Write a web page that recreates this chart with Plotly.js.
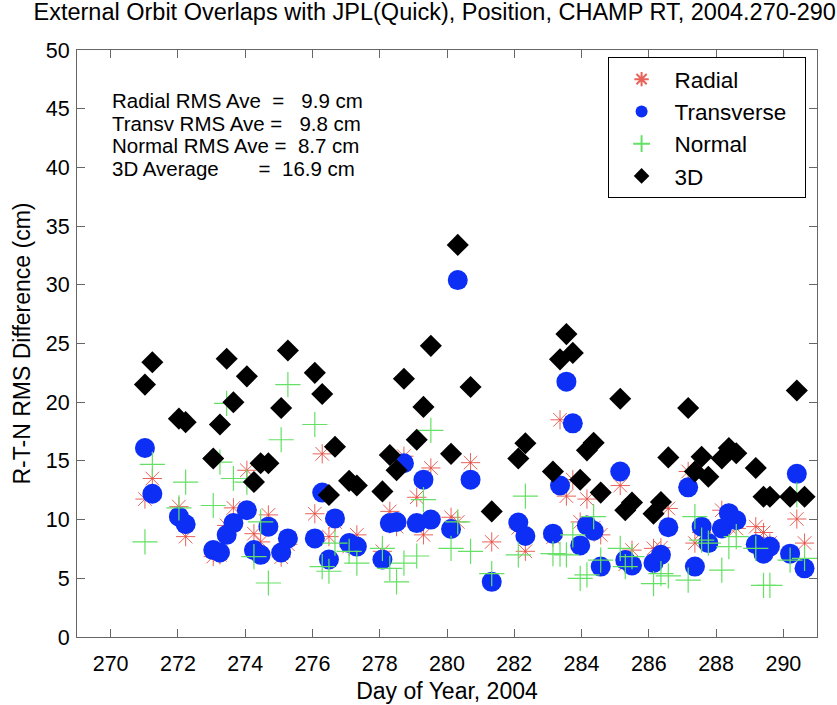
<!DOCTYPE html>
<html>
<head>
<meta charset="utf-8">
<script src="https://cdn.plot.ly/plotly-3.0.1.min.js"></script>
<style>
  html, body { margin: 0; padding: 0; background: #fff; }
  #chart { width: 837px; height: 705px; }
</style>
</head>
<body>
<div id="chart"></div>
<script>
// Overlap epochs (day of year 2004) and RMS position differences in cm
const dayOfYear = [
  271.02, 271.24, 272.03, 272.23, 273.05, 273.25, 273.45, 273.65, 274.05, 274.26,
  274.46, 274.69, 275.07, 275.27, 276.07, 276.29, 276.49, 276.67, 277.09, 277.32,
  278.08, 278.30, 278.50, 278.72, 279.10, 279.30, 279.52, 280.12, 280.32, 280.70,
  281.33, 282.12, 282.33, 283.15, 283.36, 283.55, 283.74, 283.96, 284.16, 284.36,
  284.57, 285.15, 285.30, 285.50, 286.14, 286.36, 286.58, 287.17, 287.37, 287.57,
  287.77, 288.17, 288.38, 288.60, 289.18, 289.41, 289.60, 290.20, 290.40, 290.63
];
const radial = [
  11.75, 13.5, 11.1, 8.55, 6.85, 7.0, 9.5, 11.0, 14.2, 8.8,
  8.1, 10.4, 6.8, 7.9, 10.5, 15.6, 8.55, 9.8, 7.7, 8.7,
  7.3, 10.7, 9.4, 15.4, 11.9, 8.7, 14.4, 10.2, 9.8, 14.85,
  8.1, 9.3, 7.3, 8.5, 18.5, 12.0, 13.4, 9.8, 11.75, 9.3,
  8.7, 12.9, 6.2, 7.4, 7.55, 7.6, 10.95, 14.1, 8.0, 8.9,
  8.0, 10.8, 9.4, 9.25, 9.4, 8.9, 8.0, 7.1, 10.05, 8.0
];
const transverse = [
  16.1, 12.2, 10.25, 9.6, 7.4, 7.2, 8.7, 9.7, 10.8, 7.4,
  7.0, 9.4, 7.2, 8.4, 8.4, 12.3, 6.6, 10.1, 8.0, 7.7,
  6.6, 9.7, 9.8, 14.8, 9.7, 13.4, 10.0, 9.2, 30.4, 13.4,
  4.7, 9.75, 8.6, 8.8, 12.9, 21.75, 18.2, 7.8, 9.5, 9.05,
  6.0, 14.1, 6.55, 6.1, 6.3, 7.0, 9.35, 12.75, 6.0, 9.4,
  8.0, 9.25, 10.55, 9.95, 7.9, 7.1, 7.7, 7.1, 13.9, 5.85
];
const normal = [
  8.1, 14.7, 11.0, 13.2, 11.2, 14.9, 19.9, 13.5, 13.2, 6.85,
  9.8, 4.6, 16.8, 21.5, 18.1, 6.0, 5.6, 8.0, 7.3, 6.3,
  7.55, 5.85, 4.7, 6.3, 6.9, 11.7, 17.6, 7.55, 9.8, 7.3,
  5.4, 7.0, 12.0, 7.1, 7.05, 7.0, 8.7, 5.0, 5.3, 10.25,
  6.55, 7.55, 6.0, 6.85, 4.55, 5.4, 5.2, 4.85, 10.25, 8.25,
  8.0, 5.7, 7.7, 8.55, 7.55, 4.4, 4.4, 6.55, 12.1, 6.7
];
const total3D = [
  21.5, 23.4, 18.6, 18.3, 15.2, 18.1, 23.7, 20.0, 22.2, 13.2,
  14.8, 14.8, 19.5, 24.4, 22.5, 20.7, 12.1, 16.2, 13.3, 12.9,
  12.4, 15.5, 14.2, 22.0, 16.8, 19.6, 24.8, 15.6, 33.4, 21.3,
  10.7, 15.2, 16.5, 14.1, 23.65, 25.8, 24.2, 13.4, 15.9, 16.55,
  12.3, 20.3, 10.8, 11.45, 10.5, 11.5, 15.3, 19.5, 14.1, 15.35,
  13.65, 15.2, 16.1, 15.65, 14.4, 11.95, 11.95, 11.95, 21.0, 11.95
];

const xTickVals = [270, 272, 274, 276, 278, 280, 282, 284, 286, 288, 290];
const yTickVals = [0, 5, 10, 15, 20, 25, 30, 35, 40, 45, 50];

const NB = '\u00a0';
const summaryLines = [
  'Radial RMS Ave' + NB + NB + '=' + NB + NB + NB + '9.9 cm',
  'Transv RMS Ave =' + NB + NB + NB + '9.8 cm',
  'Normal RMS Ave =' + NB + NB + '8.7 cm',
  '3D Average' + NB.repeat(7) + '=' + NB + NB + '16.9 cm'
];

const FONT = '"Liberation Sans", Arial, sans-serif';
const tail = NB + NB;

const traces = [
  {
    name: 'Radial' + tail, x: dayOfYear, y: radial, type: 'scatter', mode: 'markers',
    marker: { symbol: 'asterisk-open', size: 16, color: 'rgba(228,70,60,0.85)',
              line: { color: 'rgba(228,70,60,0.85)', width: 1 } }
  },
  {
    name: 'Transverse' + tail, x: dayOfYear, y: transverse, type: 'scatter', mode: 'markers',
    marker: { symbol: 'circle', size: 20, color: 'rgb(12,46,245)', line: { width: 0 } }
  },
  {
    name: 'Normal' + tail, x: dayOfYear, y: normal, type: 'scatter', mode: 'markers',
    marker: { symbol: 'cross-thin-open', size: 18, color: 'rgb(100,225,100)',
              line: { color: 'rgb(100,225,100)', width: 1.2 } }
  },
  {
    name: '3D' + tail, x: dayOfYear, y: total3D, type: 'scatter', mode: 'markers',
    marker: { symbol: 'diamond', size: 17, color: '#000', line: { width: 0 } }
  }
];

const annotations = summaryLines.map((t, i) => ({
  text: t, xref: 'paper', yref: 'paper', x: 0.044, y: 0.914 - i * 0.0385,
  xanchor: 'left', yanchor: 'middle', showarrow: false,
  font: { family: FONT, size: 20.5, color: '#000' }
}));

const layout = {
  width: 837, height: 705,
  margin: { l: 77, r: 20, t: 50, b: 68 },
  paper_bgcolor: '#fff', plot_bgcolor: '#fff',
  font: { family: FONT, size: 21, color: '#000' },
  title: {
    text: 'External Orbit Overlaps with JPL(Quick), Position, CHAMP RT, 2004.270-290',
    font: { family: FONT, size: 23.5, color: '#000' },
    xref: 'container', x: 0.04, xanchor: 'left', y: 0.995, yanchor: 'top'
  },
  xaxis: {
    range: [269, 291], tickvals: xTickVals, ticktext: xTickVals.map(String),
    ticks: 'inside', ticklen: 8, tickcolor: '#666', tickwidth: 1,
    showline: true, linecolor: '#666', linewidth: 1, mirror: 'ticks',
    showgrid: false, zeroline: false, ticklabelstandoff: 7,
    tickfont: { family: FONT, size: 21.5 },
    title: { text: 'Day of Year, 2004', font: { family: FONT, size: 23 }, standoff: 8 }
  },
  yaxis: {
    range: [0, 50], tickvals: yTickVals, ticktext: yTickVals.map(String),
    ticks: 'inside', ticklen: 8, tickcolor: '#666', tickwidth: 1,
    showline: true, linecolor: '#666', linewidth: 1, mirror: 'ticks',
    showgrid: false, zeroline: false, ticklabelstandoff: 2,
    tickfont: { family: FONT, size: 21.5 },
    title: { text: 'R-T-N RMS Difference (cm)', font: { family: FONT, size: 23 }, standoff: 8 }
  },
  legend: {
    x: 0.717, y: 0.988, xanchor: 'left', yanchor: 'top',
    bgcolor: '#fff', bordercolor: '#000', borderwidth: 1,
    font: { family: FONT, size: 22.5, color: '#000' },
    itemsizing: 'constant', itemwidth: 56
  },
  showlegend: true,
  annotations: annotations
};

Plotly.newPlot('chart', traces, layout, { displayModeBar: false, staticPlot: true });
</script>
</body>
</html>
